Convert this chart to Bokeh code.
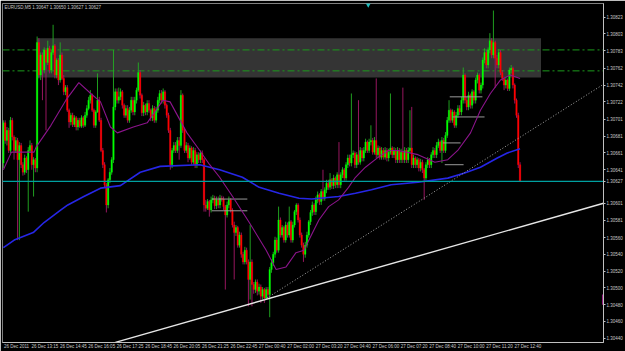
import numpy as np
from bokeh.plotting import figure
from bokeh.models import ColumnDataSource, FixedTicker, LinearAxis, Range1d, Label
from bokeh.embed import file_html
from bokeh.resources import INLINE

# Prices are written in points above 1.30000 (1 point = 0.00001)
BASE = 1.30000
PT = 0.00001

first_open_pts = 649
close_pts = [697,676,688,664,700,680,664,676,653,670,647,638,655,641,664,670,647,653,643,793,
 754,778,760,784,769,786,760,781,789,754,772,748,778,750,734,739,712,698,706,695,
 703,692,700,693,703,694,706,714,724,730,712,694,710,724,700,664,647,623,599,629,
 638,653,716,734,724,728,734,718,706,714,700,712,724,710,724,736,757,730,709,718,
 710,720,712,703,714,700,712,724,732,724,734,718,706,688,647,664,670,664,676,670,
 730,688,664,670,655,667,650,664,647,659,653,661,653,599,595,603,593,605,607,598,
 605,599,607,606,597,587,599,605,593,575,566,572,551,563,540,531,545,531,510,531,
 504,498,507,496,501,490,498,488,498,492,522,530,540,557,545,581,563,572,557,575,
 563,579,557,575,591,599,581,563,551,540,551,563,579,590,599,591,605,611,603,615,
 607,617,625,620,629,622,631,623,635,623,635,641,631,647,655,649,659,661,647,659,
 650,664,655,664,674,664,674,676,662,676,659,667,656,664,656,664,655,662,667,659,
 664,653,664,653,662,653,664,653,664,667,647,655,647,653,643,650,641,631,647,653,
 647,659,664,659,670,674,664,676,664,682,700,712,700,710,694,706,714,710,724,754,
 724,716,730,718,734,724,748,754,736,742,772,781,766,784,795,778,793,774,766,781,
 757,750,742,748,738,760,762,742,724,706,647,627]
high_pts = [700,700,692,691,704,703,682,680,679,674,673,650,659,657,668,676,673,656,655,800,
 798,781,781,787,786,795,789,784,814,791,774,774,793,781,754,742,742,714,709,709,
 706,705,703,703,706,705,710,718,728,736,732,714,712,756,728,703,667,650,625,631,
 643,656,784,738,738,739,738,736,720,718,718,716,728,728,728,739,769,760,732,722,
 720,724,724,714,718,717,716,728,736,736,738,736,720,709,691,667,674,674,680,680,
 736,732,691,674,673,670,669,668,667,662,662,664,664,655,605,606,605,609,611,610,
 609,609,611,610,609,599,603,609,607,595,579,575,574,567,566,543,549,548,534,575,
 534,507,510,510,505,504,501,500,501,501,525,534,543,561,560,597,584,575,574,579,
 578,597,581,579,593,601,601,584,566,554,555,567,581,593,603,601,609,615,613,618,
 641,620,629,629,637,631,635,633,638,674,638,644,643,650,659,659,732,664,663,662,
 724,668,667,668,678,676,678,694,679,680,750,670,669,668,667,668,667,666,732,669,
 668,667,668,667,666,739,668,667,668,712,716,659,657,656,655,654,653,643,650,656,
 655,662,668,667,674,678,676,680,679,686,704,724,714,713,712,710,718,718,728,763,
 756,728,734,732,737,736,751,757,756,745,775,786,784,787,804,798,831,795,778,785,
 784,760,752,751,750,763,766,764,744,726,709,650]
low_pts = [643,672,670,661,661,676,653,661,557,557,643,634,635,637,591,661,641,609,638,638,
 750,748,724,756,688,766,756,756,778,750,750,742,745,748,730,730,710,691,694,692,
 692,688,688,691,691,691,692,703,712,720,710,691,691,709,698,662,643,620,590,595,
 625,635,649,712,720,720,724,714,703,703,697,697,709,706,706,720,734,726,705,705,
 706,706,709,699,699,697,697,709,720,720,720,714,703,685,641,643,661,661,661,653,
 667,685,661,661,650,653,647,647,643,643,649,649,649,591,591,593,585,590,601,594,
 594,595,595,603,593,498,584,595,590,572,510,562,548,548,536,528,528,528,478,486,
 478,493,494,491,492,482,486,482,486,488,465,518,526,536,542,542,560,560,554,554,
 560,560,554,554,572,587,578,560,548,531,536,548,560,575,586,587,587,601,599,599,
 604,604,613,617,617,618,618,619,619,619,619,631,628,628,643,645,645,655,643,643,
 647,647,651,651,661,661,661,670,659,659,655,655,653,653,653,653,651,651,659,655,
 655,649,649,649,649,649,649,649,649,661,643,643,643,643,639,639,637,605,628,643,
 643,643,655,655,655,667,661,649,661,661,679,697,697,697,691,691,703,706,706,720,
 720,712,712,714,714,720,720,744,732,732,738,768,762,762,780,774,774,739,762,762,
 754,747,736,738,735,735,756,738,720,703,643,627]

# moving averages: (bar index, points)
ma_fast_bars = [0,4.5,17.3,18.4,26.8,35.2,42.5,49.2,54.7,60.3,64.2,73.2,81,89.9,93.9,103.4,110.6,116.2,
 121.8,129.1,138.5,148,153.6,159.2,164.8,169.3,172.1,177.7,183.2,188.8,194.4,198.3,203.9,211.2,216.8,
 222.3,233.5,243,250.3,255.9,263.1,268.7,274.3,279.9,285.5,291]
ma_fast_pts = [641,662,662,668,694,724,745,732,722,692,685,692,697,724,722,685,664,647,
 632,609,578,545,522,525,542,545,557,581,597,605,620,632,644,656,664,
 664,659,650,653,664,685,712,732,748,754,750]
ma_slow_bars = [0,6.1,16.8,22.9,32.4,36.3,45.3,54.7,65.9,77.1,88.3,110.6,121.8,134.6,144.1,155.3,
 166.5,173.7,188.8,198.3,207.3,218.4,233.5,250.3,259.8,268.7,278.2,283.8,291]
ma_slow_pts = [548,557,566,578,593,599,609,619,622,638,645,647,641,632,620,613,
 607,606,609,613,617,623,626,631,637,644,655,661,666]

zone_bars = [19.0, 302.8]
zone_prices = [1.30798, 1.30751]
level_prices = [1.30784, 1.30759]
bid_price = 1.30627
white_line_bars = [63.1, 338.0]
white_line_prices = [1.30435, 1.30601]
dotted_line_bars = [147.0, 338.0]
dotted_line_prices = [1.30486, 1.30743]
seg_start_bars = [117.3, 117.3, 251.4, 253.0, 247.5, 248.6]
seg_end_bars = [137.4, 137.4, 269.8, 271.0, 257.5, 259.2]
seg_prices = [1.30606, 1.30592, 1.30728, 1.30704, 1.30673, 1.30647]

price_tick_labels = ["1.30823","1.30803","1.30783","1.30762","1.30742","1.30722","1.30701","1.30681",
 "1.30661","1.30641","1.30627","1.30601","1.30581","1.30560","1.30540","1.30520","1.30500",
 "1.30480","1.30460","1.30440"]
time_label_bars = [0,16,32,48,64,80,96,112,128,144,160,176,192,208,224,240,256,272,288]
time_labels = ["26 Dec 2011","26 Dec 13:15","26 Dec 14:45","26 Dec 16:05","26 Dec 17:25",
 "26 Dec 18:45","26 Dec 20:05","26 Dec 21:25","26 Dec 22:45","27 Dec 00:40","27 Dec 02:00",
 "27 Dec 03:20","27 Dec 04:40","27 Dec 06:00","27 Dec 07:20","27 Dec 08:40","27 Dec 10:00",
 "27 Dec 11:20","27 Dec 12:40"]
title_text = "EURUSD,M5  1.30647 1.30650 1.30627 1.30627"

# ---------------------------------------------------------------
c = BASE + np.array(close_pts) * PT
o = np.concatenate([[BASE + first_open_pts * PT], c[:-1]])
h = np.maximum(BASE + np.array(high_pts) * PT, np.maximum(o, c))
l = np.minimum(BASE + np.array(low_pts) * PT, np.minimum(o, c))
n = len(c)
idx = np.arange(n)
bull = c >= o
src = ColumnDataSource(dict(
    x=idx, o=o, c=c, h=h, l=l,
    top=np.maximum(o, c), bot=np.minimum(o, c),
    body=np.where(bull, "#00ff00", "#ff0000"),
    wick=np.where(bull, "#22b022", "#a8186a"),
))

y_top = BASE + 839.4 * PT
y_bot = BASE + 434.8 * PT

p = figure(width=625, height=351, x_range=Range1d(-0.5, 338), y_range=Range1d(y_bot, y_top),
           output_backend="svg", toolbar_location=None,
           background_fill_color="black", border_fill_color="black",
           min_border_left=2, min_border_top=3, min_border_right=17, min_border_bottom=8,
           x_axis_location=None, y_axis_location=None)
p.outline_line_color = "#808080"
for g in p.grid:
    g.visible = False

# zone and levels
p.quad(left=zone_bars[0], right=zone_bars[1], top=zone_prices[0], bottom=zone_prices[1],
       fill_color="#343434", line_color=None)
for lv in level_prices:
    p.line(x=[-0.5, 338], y=[lv, lv], line_color="#1c9c1c", line_width=1, line_dash="7 3 2 3")

# candles
p.segment(x0="x", y0="l", x1="x", y1="h", source=src, line_color="wick", line_width=0.9)
p.vbar(x="x", width=0.85, top="top", bottom="bot", source=src, fill_color="body",
       line_color="body", line_width=0.3)

# indicator segments
p.segment(x0=seg_start_bars, y0=seg_prices, x1=seg_end_bars, y1=seg_prices,
          line_color="#9a9a9a", line_width=1)

# moving averages
p.line(x=ma_slow_bars, y=BASE + np.array(ma_slow_pts) * PT, line_color="#2626e6", line_width=1.6)
p.line(x=ma_fast_bars, y=BASE + np.array(ma_fast_pts) * PT, line_color="#8c148c", line_width=1.1)

# trend lines
p.line(x=white_line_bars, y=white_line_prices, line_color="#e6e6e6", line_width=1.4)
p.line(x=dotted_line_bars, y=dotted_line_prices, line_color="#a8a8a8", line_width=1, line_dash="1 2")

# bid line
p.line(x=[-0.5, 338], y=[bid_price, bid_price], line_color="#00a0a0", line_width=1.2)

# marker on the right edge
p.quad(left=337.2, right=338, bottom=1.30480, top=1.30492, fill_color="#a0208a", line_color=None)
p.scatter(x=[205.5], y=[y_top - 1.5 * PT], marker="inverted_triangle", size=5,
          fill_color="#20c0c0", line_color=None)

# axes
font = "Liberation Sans"
ya = LinearAxis(ticker=FixedTicker(ticks=[float(t) for t in price_tick_labels]),
                major_label_overrides={float(t): t for t in price_tick_labels})
ya.axis_line_color = "#c0c0c0"
ya.major_tick_line_color = "#c0c0c0"
ya.major_tick_out = 2
ya.major_tick_in = 0
ya.minor_tick_line_color = None
ya.major_label_standoff = 1
ya.major_label_text_font = font
ya.major_label_text_font_size = "4.5px"
ya.major_label_text_color = "#c8c8c8"
p.add_layout(ya, "right")

label_shift = 7.4
xa = LinearAxis(ticker=FixedTicker(ticks=[b + label_shift for b in time_label_bars]),
                major_label_overrides={b + label_shift: t for b, t in zip(time_label_bars, time_labels)})
xa.axis_line_color = "#c0c0c0"
xa.major_tick_line_color = None
xa.major_tick_out = 0
xa.major_tick_in = 0
xa.minor_tick_line_color = None
xa.major_label_standoff = 1
xa.major_label_text_font = font
xa.major_label_text_font_size = "4.5px"
xa.major_label_text_color = "#c8c8c8"
p.add_layout(xa, "below")

p.add_layout(Label(x=-0.5, y=y_top, x_offset=2, y_offset=-1, text=title_text,
                   text_baseline="top", text_align="left", text_font=font,
                   text_font_size="4.5px", text_color="#c8c8c8"))

open("out.html", "w").write(file_html(p, INLINE))
